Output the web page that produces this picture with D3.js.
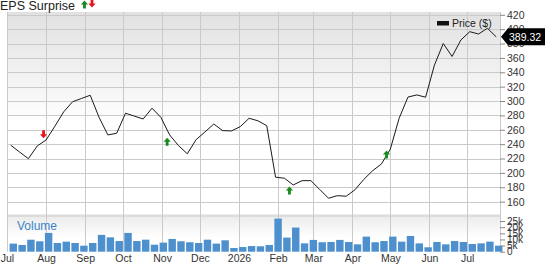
<!DOCTYPE html>
<html>
<head>
<script src="https://d3js.org/d3.v7.min.js"></script>
<style>
  body { margin: 0; background: #fff; }
  svg text { font-family: "Liberation Sans", Arial, sans-serif; fill: #333; }
</style>
</head>
<body>
<svg id="chart" width="545" height="264"></svg>
<script>
// weekly closes (Fridays)
var weeks = [
  "2025-07-04","2025-07-11","2025-07-18","2025-07-25","2025-08-01","2025-08-08","2025-08-15","2025-08-22",
  "2025-08-29","2025-09-05","2025-09-12","2025-09-19","2025-09-26","2025-10-03","2025-10-10","2025-10-17",
  "2025-10-24","2025-10-31","2025-11-07","2025-11-14","2025-11-21","2025-11-28","2025-12-05","2025-12-12",
  "2025-12-19","2025-12-26","2026-01-02","2026-01-09","2026-01-16","2026-01-23","2026-01-30","2026-02-06",
  "2026-02-13","2026-02-20","2026-02-27","2026-03-06","2026-03-13","2026-03-20","2026-03-27","2026-04-03",
  "2026-04-10","2026-04-17","2026-04-24","2026-05-01","2026-05-08","2026-05-15","2026-05-22","2026-05-29",
  "2026-06-05","2026-06-12","2026-06-19","2026-06-26","2026-07-03","2026-07-10","2026-07-17","2026-07-24"
];
var price = [
  238.5, 229, 219.8, 237.5, 245.8, 265, 285, 299, 303.5, 308,
  277.4, 252.8, 255.2, 283, 279, 275, 290, 277.4, 252.8, 238,
  226.6, 246.3, 257, 268, 258.8, 258.4, 264.3, 276, 272.5, 265.7,
  194, 192.6, 183.2, 189.2, 189.2, 177, 164.7, 168.3, 167.5, 176.5,
  191, 203, 212.5, 233, 276, 305.5, 308.5, 305.3, 350, 380,
  362, 385, 396.5, 393.3, 401.3, 389.32
];
var volume = [
  6.6, 5.5, 9.8, 8.5, 15.3, 7.1, 8.2, 7.1, 4.9, 7.1,
  13.7, 11.7, 8.7, 15.3, 8.7, 9.8, 5.7, 7.4, 10.4, 8.5,
  7.7, 7.1, 9.8, 6.6, 9.3, 3.0, 3.8, 4.6, 4.4, 5.5,
  27, 11.5, 19.7, 6.8, 9.6, 7.7, 7.9, 9.6, 7.9, 6.0,
  12.3, 7.7, 8.7, 12.3, 8.2, 12.8, 6.8, 3.6, 7.9, 6.0,
  8.7, 7.9, 6.3, 6.8, 8.2, 4.9
].map(function(v) { return v * 1000; });

// earnings surprises: date, price level of the arrow tip, direction
var epsDates = ["2025-07-30", "2025-11-05", "2026-02-10", "2026-04-28"];
var epsLevel = [248.2, 249, 180.9, 231];
var epsUp = [false, true, true, true];

var priceTicks = d3.range(160, 421, 20);
var volTicks = [0, 5000, 10000, 15000, 20000, 25000];

var parse = d3.timeParse("%Y-%m-%d");
var data = weeks.map(function(w, i) { return { date: parse(w), price: price[i], vol: volume[i] }; });

var plotLeft = 7, plotRight = 500, plotTop = 12, priceBottom = 216, volTop = 217, volBottom = 251.7;

var x = d3.scaleTime()
  .domain([parse("2025-07-01"), parse("2026-07-27")])
  .range([plotLeft, plotRight]);
var y = d3.scaleLinear().domain([140, 423.9]).range([priceBottom, plotTop]);
var yv = d3.scaleLinear().domain([0, 28300]).range([volBottom, volTop]);

var svg = d3.select("#chart");
var defs = svg.append("defs");
var g1 = defs.append("linearGradient").attr("id", "bgPrice").attr("x1", 0).attr("y1", 0).attr("x2", 0).attr("y2", 1);
g1.append("stop").attr("offset", "0%").attr("stop-color", "#e1e1e1");
g1.append("stop").attr("offset", "55%").attr("stop-color", "#ffffff");
var g2 = defs.append("linearGradient").attr("id", "bgVol").attr("x1", 0).attr("y1", 0).attr("x2", 0).attr("y2", 1);
g2.append("stop").attr("offset", "0%").attr("stop-color", "#ececec");
g2.append("stop").attr("offset", "60%").attr("stop-color", "#ffffff");

svg.append("rect").attr("x", plotLeft).attr("y", plotTop).attr("width", plotRight - plotLeft).attr("height", priceBottom - plotTop)
  .attr("fill", "url(#bgPrice)");
svg.append("rect").attr("x", plotLeft).attr("y", volTop).attr("width", plotRight - plotLeft).attr("height", volBottom - volTop)
  .attr("fill", "url(#bgVol)");

// horizontal grid (price)
svg.append("g").selectAll("line").data(priceTicks).enter().append("line")
  .attr("x1", plotLeft).attr("x2", plotRight)
  .attr("y1", function(d) { return Math.round(y(d)) + 0.5; })
  .attr("y2", function(d) { return Math.round(y(d)) + 0.5; })
  .attr("stroke", "#cacaca");

// separator between panels
svg.append("rect").attr("x", plotLeft).attr("y", 214.5).attr("width", plotRight - plotLeft).attr("height", 2.5).attr("fill", "#dcdcdc");

// vertical grid at months
var months = x.ticks(d3.timeMonth.every(1));
svg.append("g").selectAll("line").data(months).enter().append("line")
  .attr("x1", function(d) { return Math.round(x(d)) + 0.5; })
  .attr("x2", function(d) { return Math.round(x(d)) + 0.5; })
  .attr("y1", plotTop).attr("y2", volBottom)
  .attr("stroke", "#cacaca");
svg.append("line").attr("x1", plotRight + 0.5).attr("x2", plotRight + 0.5).attr("y1", plotTop).attr("y2", volBottom).attr("stroke", "#cacaca");

// volume bars
svg.append("g").selectAll("rect").data(data).enter().append("rect")
  .attr("x", function(d) { return x(d.date) - 1.2; })
  .attr("width", function(d) { return x(d3.timeDay.offset(d.date, 7)) - x(d.date) - 1.4; })
  .attr("y", function(d) { return yv(d.vol); })
  .attr("height", function(d) { return yv(0) - yv(d.vol); })
  .attr("fill", "#4d90cd");

svg.append("text").attr("x", 17).attr("y", 230).attr("font-size", "12px")
  .style("fill", "#3b84c8").text("Volume");

// price line
var line = d3.line().x(function(d) { return x(d.date); }).y(function(d) { return y(d.price); });
svg.append("path").datum(data).attr("d", line)
  .attr("fill", "none").attr("stroke", "#1a1a1a").attr("stroke-width", 1);

// right axis (price)
var yAxis = d3.axisRight(y).tickValues(priceTicks).tickSize(5).tickPadding(2);
svg.append("g").attr("transform", "translate(" + plotRight + ",0)").call(yAxis)
  .call(function(a) {
    a.select(".domain").remove();
    a.selectAll("line").attr("stroke", "#888");
    a.selectAll("text").attr("font-size", "10.5px").attr("font-family", "Liberation Sans, Arial, sans-serif").style("fill", "#333");
  });

// right axis (volume)
var vAxis = d3.axisRight(yv).tickValues(volTicks).tickSize(5).tickPadding(2)
  .tickFormat(function(d) { return d === 0 ? "0" : (d / 1000) + "k"; });
svg.append("g").attr("transform", "translate(" + plotRight + ",0)").call(vAxis)
  .call(function(a) {
    a.select(".domain").remove();
    a.selectAll("line").attr("stroke", "#888");
    a.selectAll("text").attr("font-size", "10px").attr("font-family", "Liberation Sans, Arial, sans-serif").style("fill", "#333");
  });

// bottom axis labels
var fmt = function(d) { return d.getMonth() === 0 ? d3.timeFormat("%Y")(d) : d3.timeFormat("%b")(d); };
var xAxis = d3.axisBottom(x).tickValues(months).tickSize(0).tickPadding(3).tickFormat(fmt);
svg.append("g").attr("transform", "translate(0," + volBottom + ")").call(xAxis)
  .call(function(a) {
    a.select(".domain").remove();
    a.selectAll("text").attr("font-size", "10.5px").attr("font-family", "Liberation Sans, Arial, sans-serif").style("fill", "#333");
  });

// arrow glyph: tip at (0,0); up arrow points up, down points down
function arrowPath(up) {
  var s = up ? 1 : -1;
  return "M0,0 L3.6," + (4 * s) + " L1.4," + (4 * s) + " L1.4," + (8 * s) +
    " L-1.4," + (8 * s) + " L-1.4," + (4 * s) + " L-3.6," + (4 * s) + " Z";
}
svg.append("g").selectAll("path").data(epsDates).enter().append("path")
  .attr("d", function(d, i) { return arrowPath(epsUp[i]); })
  .attr("transform", function(d, i) { return "translate(" + x(parse(d)) + "," + y(epsLevel[i]) + ")"; })
  .attr("fill", function(d, i) { return epsUp[i] ? "#168a1d" : "#e8141a"; });

// title
svg.append("text").attr("x", 0).attr("y", 10).attr("font-size", "12.5px").style("fill", "#222").text("EPS Surprise");
svg.append("path").attr("d", arrowPath(true)).attr("transform", "translate(84.5,0.5)").attr("fill", "#168a1d");
svg.append("path").attr("d", arrowPath(false)).attr("transform", "translate(92,7.5)").attr("fill", "#e8141a");

// legend
svg.append("rect").attr("x", 437).attr("y", 21).attr("width", 12).attr("height", 4.5).attr("fill", "#111");
svg.append("text").attr("x", 452).attr("y", 27).attr("font-size", "10.5px").style("fill", "#222").text("Price ($)");

// last value label
var last = data[data.length - 1];
var ly = y(last.price);
svg.append("path")
  .attr("d", "M" + (plotRight + 1) + "," + ly + " L" + (plotRight + 8) + "," + (ly - 8.5) + " L545," + (ly - 8.5) +
    " L545," + (ly + 8.5) + " L" + (plotRight + 8) + "," + (ly + 8.5) + " Z")
  .attr("fill", "#000");
svg.append("text").attr("x", plotRight + 9).attr("y", ly + 4).attr("font-size", "10.5px")
  .style("fill", "#fff").text(d3.format(".2f")(last.price));
</script>
</body>
</html>
